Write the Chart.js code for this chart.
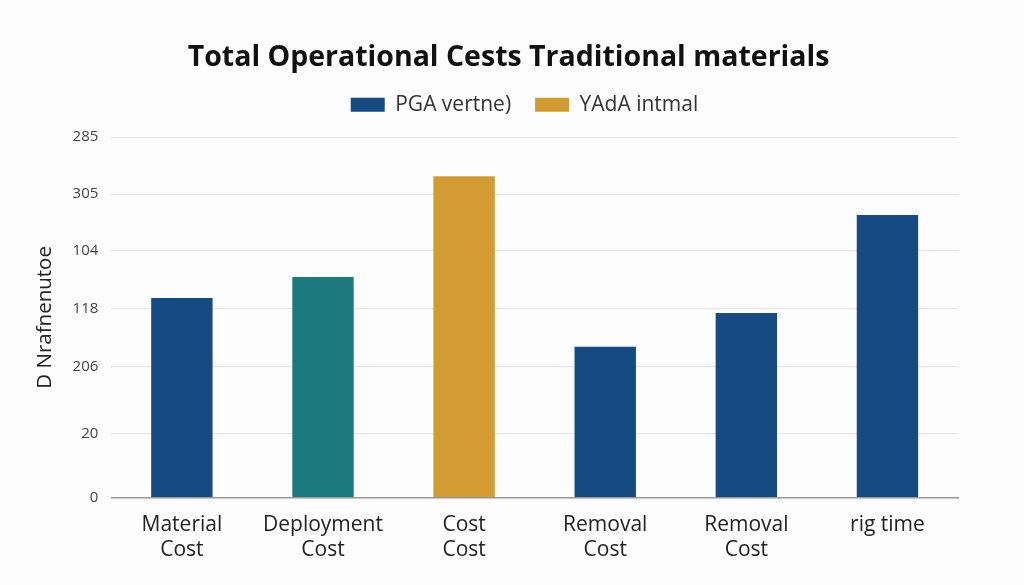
<!DOCTYPE html>
<html>
<head>
<meta charset="utf-8">
<script src="https://cdn.jsdelivr.net/npm/chart.js@4/dist/chart.umd.min.js"></script>
<style>
  html, body { margin: 0; padding: 0; background: #fdfdfd; }
  #wrap { width: 1024px; height: 585px; position: relative; }
</style>
</head>
<body>
<div id="wrap"><canvas id="c" width="1024" height="585"></canvas></div>
<script>
const categories = [["Material", "Cost"], ["Deployment", "Cost"], ["Cost", "Cost"], ["Removal", "Cost"], ["Removal", "Cost"], "rig time"];
const pgaValues = [200, 221, null, 151, 185, 283];
const yadaValues = [null, null, 322, null, null, null];
const barColors = ["#164a82", "#1b7a7e", "#164a82", "#164a82", "#164a82", "#164a82"];
const tickValues = [0, 64, 131, 189, 247, 304, 361];
const tickLabels = ["0", "20", "206", "118", "104", "305", "285"];

function shiftDraw(chart, block, dx, dy) {
  const origDraw = block.draw;
  block.draw = function () {
    const ctx = chart.ctx;
    ctx.save();
    ctx.translate(dx, dy);
    origDraw.apply(block, arguments);
    ctx.restore();
  };
}

const headerTweak = {
  id: 'headerTweak',
  beforeInit(chart) {
    const lg = chart.legend;
    const origFit = lg.fit;
    lg.fit = function () {
      origFit.bind(lg)();
      this.height -= 1;
    };
    shiftDraw(chart, lg, 29, -13);
    if (chart.titleBlock) shiftDraw(chart, chart.titleBlock, 13, 0);
  }
};

new Chart(document.getElementById('c'), {
  type: 'bar',
  data: {
    labels: categories,
    datasets: [
      { label: 'PGA vertne)', data: pgaValues, backgroundColor: barColors, borderWidth: 0 },
      { label: 'YAdA intmal', data: yadaValues, backgroundColor: '#d29c32', borderWidth: 0 }
    ]
  },
  options: {
    responsive: false,
    animation: false,
    layout: { padding: { left: 33, right: 66, top: 0, bottom: 7 } },
    datasets: { bar: { grouped: false, categoryPercentage: 1, barPercentage: 0.435 } },
    plugins: {
      title: {
        display: true,
        text: 'Total Operational Cests Traditional materials',
        color: '#111',
        font: { family: 'Open Sans', size: 28.5, weight: 'bold' },
        padding: { top: 41, bottom: 8 }
      },
      legend: {
        display: true,
        labels: {
          color: '#333',
          font: { family: 'Open Sans', size: 21 },
          boxWidth: 34,
          boxHeight: 14,
          padding: 24
        }
      },
      tooltip: { enabled: false }
    },
    scales: {
      x: {
        grid: { display: false, drawTicks: false },
        border: { display: true, color: '#9a9a9a', width: 1.5 },
        ticks: { color: '#222', font: { family: 'Open Sans', size: 21, lineHeight: 1.2 }, padding: 15, maxRotation: 0, autoSkip: false }
      },
      y: {
        min: 0,
        max: 361,
        afterBuildTicks(axis) { axis.ticks = tickValues.map(v => ({ value: v })); },
        grid: { color: '#e6e6e6', drawTicks: false, lineWidth: 1.2 },
        border: { display: false },
        ticks: {
          color: '#444',
          font: { family: 'Open Sans', size: 15 },
          padding: 13,
          callback(value) {
            const i = tickValues.indexOf(value);
            return i >= 0 ? tickLabels[i] : '';
          }
        },
        title: {
          display: true,
          text: 'D Nrafnenutoe',
          color: '#222',
          font: { family: 'Open Sans', size: 20.5 },
          padding: { top: 0, bottom: 2 }
        }
      }
    }
  },
  plugins: [headerTweak]
});
</script>
</body>
</html>
